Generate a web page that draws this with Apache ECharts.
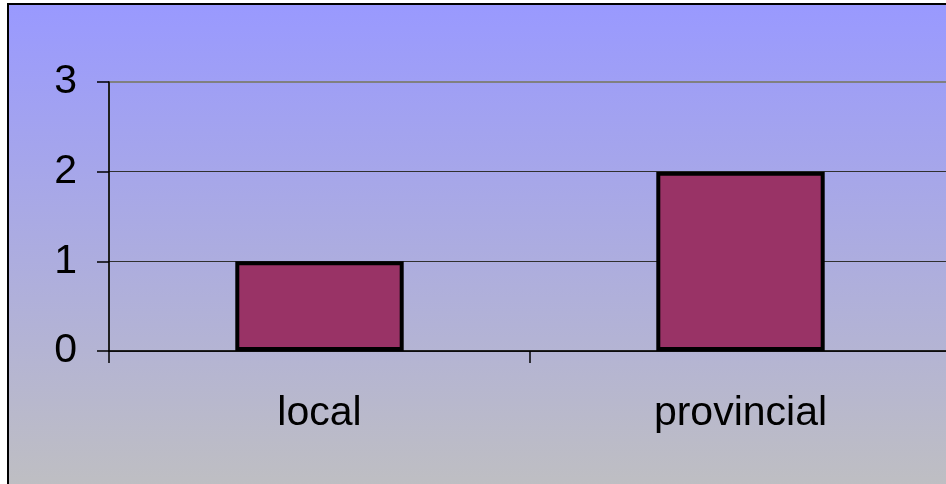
<!DOCTYPE html>
<html>
<head>
<meta charset="utf-8">
<script src="https://cdn.jsdelivr.net/npm/echarts@6/dist/echarts.min.js"></script>
<style>
html,body{margin:0;padding:0;background:#fff;}
#c{width:946px;height:484px;}
</style>
</head>
<body>
<div id="c"></div>
<script>
var categories = ['local', 'provincial'];
var values = [1, 2];
var yTicks = [0, 1, 2, 3];

var chart = echarts.init(document.getElementById('c'), null, {renderer: 'canvas'});
var font = '"Liberation Sans", Arial, sans-serif';
chart.setOption({
  animation: false,
  backgroundColor: '#ffffff',
  graphic: [{
    type: 'rect',
    z: -100,
    silent: true,
    shape: {x: 8, y: 4, width: 1000, height: 500},
    style: {
      fill: new echarts.graphic.LinearGradient(0, 0, 0, 1, [
        {offset: 0, color: '#9999ff'},
        {offset: 1, color: '#c0c0c0'}
      ]),
      stroke: '#000',
      lineWidth: 2
    }
  }],
  grid: {
    left: 109, top: 82, width: 842, height: 269,
    outerBoundsMode: 'none',
    containLabel: false,
    show: true,
    borderColor: '#808080',
    borderWidth: 2,
    backgroundColor: 'transparent'
  },
  xAxis: {
    type: 'category',
    data: categories,
    boundaryGap: true,
    axisLine: {lineStyle: {color: '#000', width: 1.5}},
    axisTick: {show: true, length: 12, lineStyle: {color: '#000', width: 1.5}},
    axisLabel: {fontSize: 41, color: '#000', fontFamily: font, margin: 42}
  },
  yAxis: {
    type: 'value',
    min: 0, max: 3, interval: 1,
    axisLine: {show: true, lineStyle: {color: '#000', width: 1.5}},
    axisTick: {show: true, length: 12, lineStyle: {color: '#000', width: 1.5}},
    axisLabel: {
      fontSize: 41, color: '#000', fontFamily: font, margin: 32,
      formatter: function (v) { return yTicks.indexOf(v) >= 0 ? String(v) : ''; }
    },
    splitLine: {show: true, lineStyle: {color: ['#303030', '#303030', '#303030', '#808080'], width: 1.2}}
  },
  series: [{
    type: 'bar',
    data: values,
    barWidth: '40%',
    itemStyle: {color: '#993366', borderColor: '#000', borderWidth: 4}
  }]
});
</script>
</body>
</html>
